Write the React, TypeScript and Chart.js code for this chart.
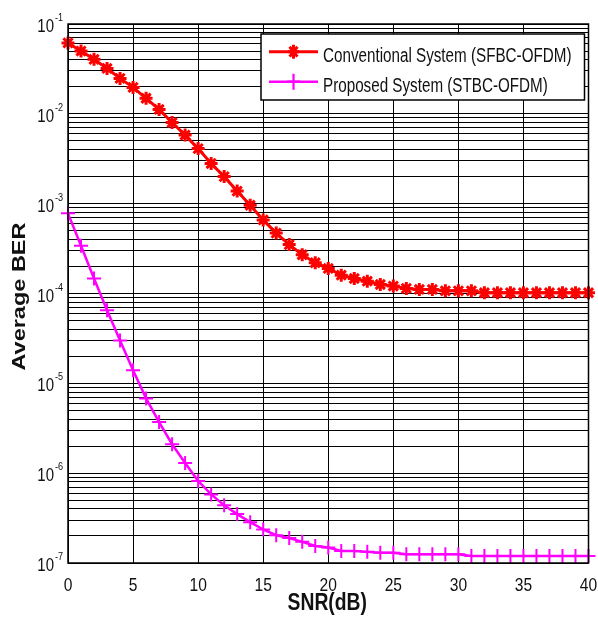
import React, { useEffect, useRef } from 'react';
import { Chart, registerables } from 'chart.js';

Chart.register(...registerables);

// ---- data ----
const snrDb = [0, 1, 2, 3, 4, 5, 6, 7, 8, 9, 10, 11, 12, 13, 14, 15, 16, 17, 18, 19, 20,
  21, 22, 23, 24, 25, 26, 27, 28, 29, 30, 31, 32, 33, 34, 35, 36, 37, 38, 39, 40];

const berConventional = [
  0.0616, 0.050, 0.0404, 0.032, 0.0248, 0.0197, 0.0149, 0.0112, 0.0080, 0.0058,
  0.0041, 0.0028, 0.0020, 0.00138, 9.6e-4, 6.6e-4, 4.7e-4, 3.5e-4, 2.7e-4, 2.2e-4,
  1.9e-4, 1.6e-4, 1.47e-4, 1.37e-4, 1.26e-4, 1.21e-4, 1.14e-4, 1.11e-4, 1.11e-4, 1.07e-4,
  1.07e-4, 1.07e-4, 1.02e-4, 1.02e-4, 1.02e-4, 1.02e-4, 1.02e-4, 1.02e-4, 1.02e-4, 1.02e-4,
  1.02e-4,
];

const berProposed = [
  7.8e-4, 3.4e-4, 1.47e-4, 6.5e-5, 3.0e-5, 1.4e-5, 6.8e-6, 3.7e-6, 2.1e-6, 1.3e-6,
  8.2e-7, 5.8e-7, 4.4e-7, 3.5e-7, 2.85e-7, 2.36e-7, 2.04e-7, 1.9e-7, 1.72e-7, 1.55e-7,
  1.49e-7, 1.36e-7, 1.36e-7, 1.33e-7, 1.30e-7, 1.30e-7, 1.25e-7, 1.25e-7, 1.25e-7, 1.25e-7,
  1.25e-7, 1.2e-7, 1.2e-7, 1.2e-7, 1.2e-7, 1.2e-7, 1.2e-7, 1.2e-7, 1.2e-7, 1.2e-7,
  1.2e-7,
];

const seriesLabels = ['Conventional System (SFBC-OFDM)', 'Proposed System (STBC-OFDM)'];
const xTickValues = [0, 5, 10, 15, 20, 25, 30, 35, 40];
const decadeExponents = [-7, -6, -5, -4, -3, -2, -1];
const minorMultipliers = [1, 2, 3, 4, 5, 6, 7, 8, 9];
const xTitle = 'SNR(dB)';
const yTitle = 'Average BER';

const yTickValues: number[] = [];
decadeExponents.forEach((e) => {
  if (e === -1) yTickValues.push(Math.pow(10, e));
  else minorMultipliers.forEach((m) => yTickValues.push(Number((m * Math.pow(10, e)).toPrecision(6))));
});

const RED = '#ff0000';
const MAGENTA = '#ff00ff';
const FONT = '"Liberation Sans", Arial, Helvetica, sans-serif';
const SX = 0.79;

function txt(ctx: CanvasRenderingContext2D, s: string, x: number, y: number, font: string, sx: number, align: CanvasTextAlign) {
  ctx.save();
  ctx.translate(x, y);
  ctx.scale(sx, 1);
  ctx.font = font;
  ctx.textAlign = align;
  ctx.textBaseline = 'alphabetic';
  ctx.fillText(s, 0, 0);
  ctx.restore();
}

function drawStar(ctx: CanvasRenderingContext2D, x: number, y: number, r: number, color: string, lw: number) {
  ctx.save();
  ctx.strokeStyle = color;
  ctx.lineWidth = lw;
  ctx.beginPath();
  for (let k = 0; k < 4; k++) {
    const a = (k * Math.PI) / 4;
    ctx.moveTo(x - Math.cos(a) * r * SX, y - Math.sin(a) * r);
    ctx.lineTo(x + Math.cos(a) * r * SX, y + Math.sin(a) * r);
  }
  ctx.stroke();
  ctx.restore();
}

function drawCross(ctx: CanvasRenderingContext2D, x: number, y: number, r: number, color: string, lw: number) {
  ctx.save();
  ctx.strokeStyle = color;
  ctx.lineWidth = lw;
  ctx.beginPath();
  ctx.moveTo(x, y - r);
  ctx.lineTo(x, y + r);
  ctx.moveTo(x - r * SX, y);
  ctx.lineTo(x + r * SX, y);
  ctx.stroke();
  ctx.restore();
}

const overlay = {
  id: 'overlay',
  afterDraw(chart: any) {
    const ctx: CanvasRenderingContext2D = chart.ctx;
    const a = chart.chartArea;
    const xs = chart.scales.x;
    const ys = chart.scales.y;
    ctx.save();
    // axes box
    ctx.strokeStyle = '#000';
    ctx.lineWidth = 1.5;
    ctx.strokeRect(a.left, a.top, a.right - a.left, a.bottom - a.top);

    ctx.fillStyle = '#111';
    // y tick labels 10^e
    decadeExponents.forEach((e) => {
      const py = ys.getPixelForValue(Math.pow(10, e));
      txt(ctx, '10', a.left - 14, py + 8, `19px ${FONT}`, SX, 'right');
      txt(ctx, String(e), a.left - 13, py - 3, `11.5px ${FONT}`, SX, 'left');
    });
    // x tick labels
    xTickValues.forEach((v) => {
      txt(ctx, String(v), xs.getPixelForValue(v), a.bottom + 27.5, `19px ${FONT}`, 0.82, 'center');
    });
    // x title
    txt(ctx, xTitle, (a.left + a.right) / 2 - 1, a.bottom + 46.5, `bold 23px ${FONT}`, 0.84, 'center');
    // y title
    ctx.save();
    ctx.translate(25, (a.top + a.bottom) / 2 + 3);
    ctx.rotate(-Math.PI / 2);
    ctx.scale(1, SX);
    ctx.font = `bold 23.5px ${FONT}`;
    ctx.textAlign = 'center';
    ctx.textBaseline = 'alphabetic';
    ctx.fillText(yTitle, 0, 0);
    ctx.restore();

    // legend
    const bx = 261, by = a.top + 10, bw = a.right - 4 - bx, bh = 66;
    ctx.fillStyle = '#fff';
    ctx.fillRect(bx, by, bw, bh);
    ctx.strokeStyle = '#000';
    ctx.lineWidth = 1.5;
    ctx.strokeRect(bx, by, bw, bh);
    const rows = [by + 17.7, by + 47.7];
    const colors = [RED, MAGENTA];
    rows.forEach((ry, i) => {
      ctx.strokeStyle = colors[i];
      ctx.lineWidth = i === 0 ? 3 : 2.5;
      ctx.beginPath();
      ctx.moveTo(bx + 8, ry);
      ctx.lineTo(bx + 57, ry);
      ctx.stroke();
      if (i === 0) drawStar(ctx, bx + 32.5, ry, 7, RED, 3);
      else drawCross(ctx, bx + 32.5, ry, 8, MAGENTA, 2.2);
      ctx.fillStyle = '#111';
      txt(ctx, seriesLabels[i], bx + 62, ry + 10, `19.5px ${FONT}`, 0.78, 'left');
    });
    ctx.restore();
  },
};

export default function App() {
  const ref = useRef<HTMLCanvasElement>(null);
  useEffect(() => {
    const canvas = ref.current!;
    const gridOpts = { color: '#000', lineWidth: 1, drawTicks: false, tickLength: 0 };
    const chart = new Chart(canvas, {
      type: 'line',
      data: {
        datasets: [
          {
            label: seriesLabels[0],
            data: snrDb.map((x, i) => ({ x, y: berConventional[i] })),
            borderColor: RED,
            backgroundColor: RED,
            borderWidth: 3,
            pointStyle: 'star',
            pointRadius: 6.5,
            pointBorderWidth: 3,
            pointBorderColor: RED,
            pointBackgroundColor: RED,
            tension: 0,
            clip: false,
          },
          {
            label: seriesLabels[1],
            data: snrDb.map((x, i) => ({ x, y: berProposed[i] })),
            borderColor: MAGENTA,
            backgroundColor: MAGENTA,
            borderWidth: 2.5,
            pointStyle: 'cross',
            pointRadius: 7,
            pointBorderWidth: 2,
            pointBorderColor: MAGENTA,
            pointBackgroundColor: MAGENTA,
            tension: 0,
            clip: false,
          },
        ],
      },
      options: {
        responsive: false,
        animation: false,
        layout: { padding: { left: 0, top: 24, right: 9, bottom: 0 } },
        plugins: { legend: { display: false }, tooltip: { enabled: false } },
        scales: {
          x: {
            type: 'linear',
            min: 0,
            max: 40,
            ticks: { display: false, autoSkip: false },
            grid: gridOpts,
            border: { display: false },
            afterBuildTicks: (s: any) => { s.ticks = xTickValues.map((v) => ({ value: v })); },
            afterFit: (s: any) => { s.height = 61; },
          },
          y: {
            type: 'logarithmic',
            min: 1e-7,
            max: 1e-1,
            ticks: { display: false, autoSkip: false },
            grid: gridOpts,
            border: { display: false },
            afterBuildTicks: (s: any) => { s.ticks = yTickValues.map((v) => ({ value: v })); },
            afterFit: (s: any) => { s.width = 68; },
          },
        },
      } as any,
      plugins: [overlay],
    });
    return () => chart.destroy();
  }, []);
  return (
    <div style={{ position: 'fixed', left: 0, top: 0, width: 598, height: 624, background: '#fff' }}>
      <canvas ref={ref} width={598} height={624} style={{ display: 'block' }} />
    </div>
  );
}
